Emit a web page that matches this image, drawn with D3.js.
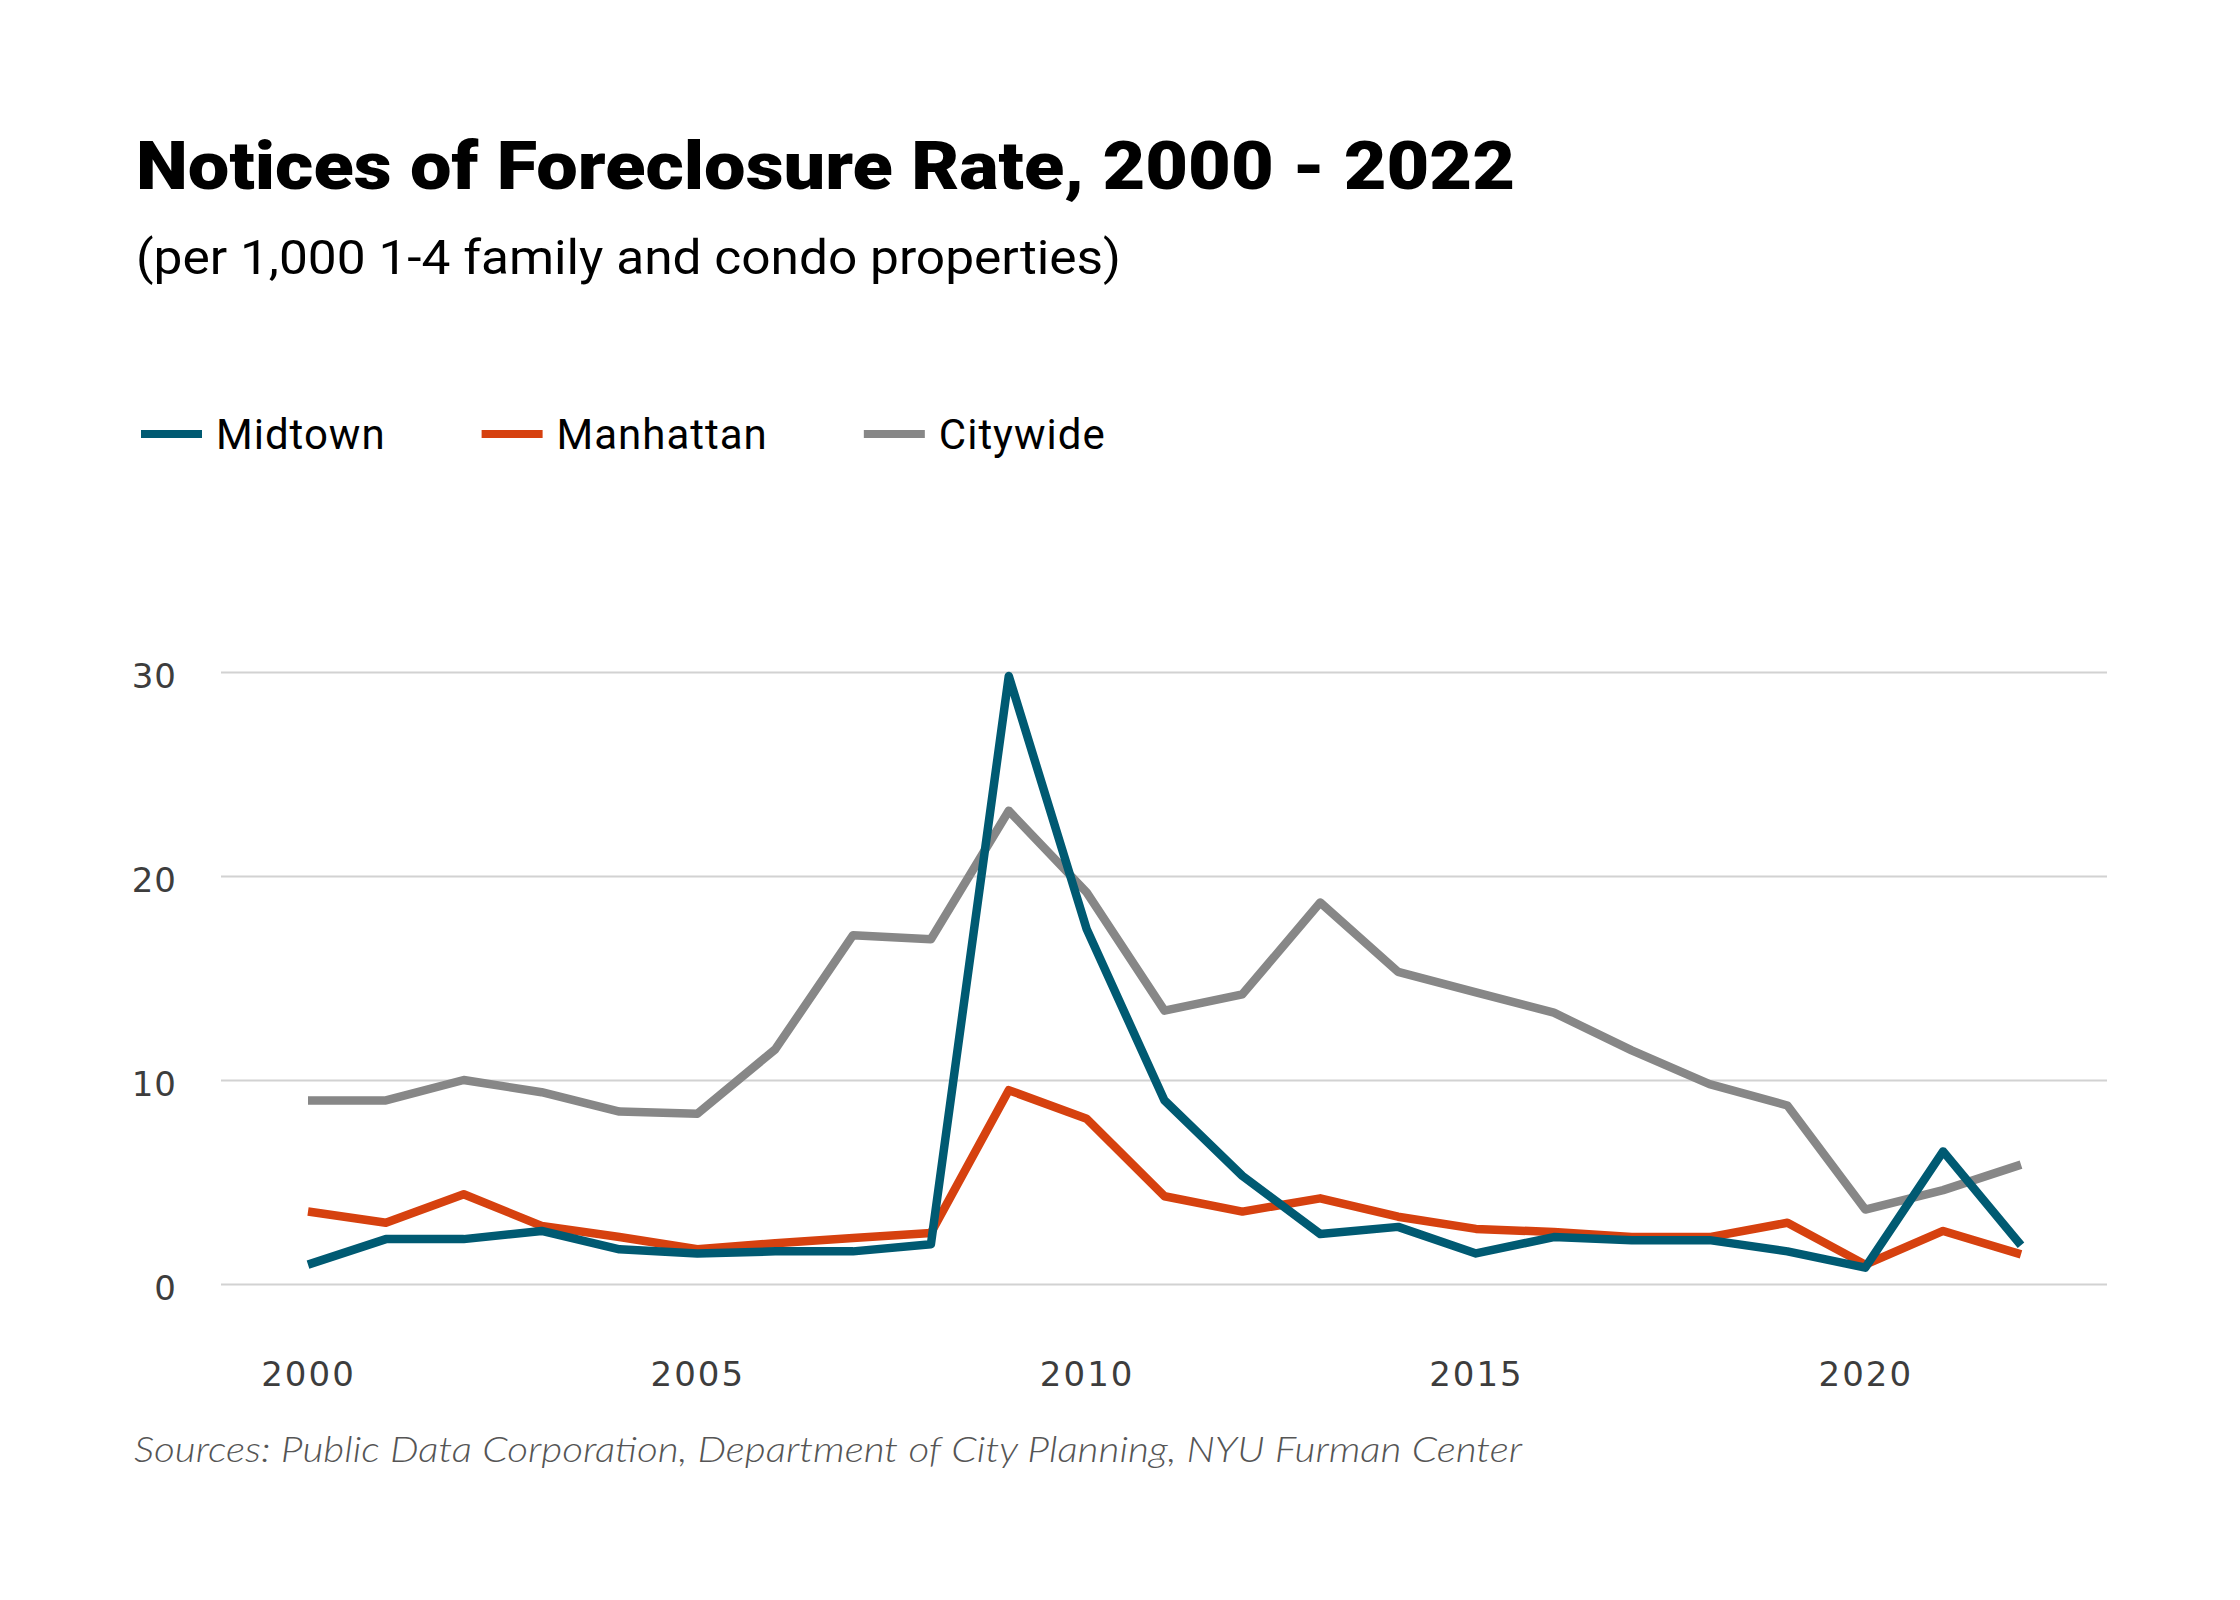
<!DOCTYPE html>
<html>
<head>
<meta charset="utf-8">
<script src="https://cdn.jsdelivr.net/npm/d3@7"></script>
<style>
  html, body { margin: 0; padding: 0; background: #fff; }
  svg { display: block; }
</style>
</head>
<body>
<svg id="chart" width="2240" height="1600"></svg>
<script>
// ---- data ----
const years = [2000,2001,2002,2003,2004,2005,2006,2007,2008,2009,2010,2011,2012,2013,2014,2015,2016,2017,2018,2019,2020,2021,2022];
const midtown   = [0.95,2.2,2.2,2.6,1.7,1.5,1.6,1.6,1.95,29.8,17.4,9.0,5.3,2.45,2.8,1.5,2.3,2.15,2.15,1.6,0.8,6.5,1.9];
const manhattan = [3.55,3.0,4.4,2.85,2.3,1.7,2.0,2.25,2.5,9.5,8.1,4.3,3.55,4.2,3.3,2.7,2.55,2.3,2.3,3.0,0.95,2.6,1.45];
const citywide  = [9.0,9.0,10.0,9.4,8.45,8.35,11.5,17.1,16.9,23.2,19.2,13.4,14.2,18.7,15.3,14.3,13.3,11.45,9.8,8.75,3.65,4.6,5.85];
const seriesNames = ["Midtown","Manhattan","Citywide"];
const seriesColors = ["#005a72","#d6410f","#878787"];
const yTicks = [0,10,20,30];
const xTicks = [2000,2005,2010,2015,2020];
const titleText = "Notices of Foreclosure Rate, 2000 - 2022";
const subtitleText = "(per 1,000 1-4 family and condo properties)";
const sourceText = "Sources: Public Data Corporation, Department of City Planning, NYU Furman Center";

const series = [midtown, manhattan, citywide];

const svg = d3.select("#chart");

const x = d3.scaleLinear().domain([2000, 2022]).range([308, 2021]);
const y = d3.scaleLinear().domain([0, 30]).range([1284, 672]);
const gridLeft = 221, gridRight = 2107;

// title
svg.append("text")
  .attr("x", 136).attr("y", 189)
  .attr("font-family", "Roboto, 'Noto Sans', sans-serif")
  .attr("font-weight", 900)
  .attr("font-size", 67)
  .attr("fill", "#000")
  .attr("textLength", 1379)
  .attr("lengthAdjust", "spacingAndGlyphs")
  .text(titleText);

svg.append("text")
  .attr("x", 136).attr("y", 274)
  .attr("font-family", "Roboto, 'Noto Sans', sans-serif")
  .attr("font-weight", 400)
  .attr("font-size", 49)
  .attr("fill", "#000")
  .attr("textLength", 985)
  .attr("lengthAdjust", "spacingAndGlyphs")
  .text(subtitleText);

// legend
const legend = svg.append("g");
let lx = 141;
seriesNames.forEach((name, i) => {
  legend.append("line")
    .attr("x1", lx).attr("x2", lx + 61)
    .attr("y1", 434).attr("y2", 434)
    .attr("stroke", seriesColors[i]).attr("stroke-width", 8);
  const t = legend.append("text")
    .attr("x", lx + 75).attr("y", 434)
    .attr("dy", "0.36em")
    .attr("font-family", "Roboto, 'Noto Sans', sans-serif")
    .attr("font-size", 42)
    .attr("letter-spacing", 1)
    .attr("fill", "#000")
    .text(name);
  const w = t.node().getComputedTextLength();
  lx = lx + 75 + w + 96;
});

// y gridlines + labels
const yAxis = d3.axisLeft(y).tickValues(yTicks).tickSize(0).tickPadding(0);
const gy = svg.append("g").attr("transform", `translate(${gridLeft},0)`).call(yAxis);
gy.select(".domain").remove();
gy.selectAll(".tick line")
  .attr("x2", gridRight - gridLeft)
  .attr("stroke", "#d2d2d2").attr("stroke-width", 2);
gy.selectAll(".tick text")
  .attr("x", 177 - gridLeft)
  .attr("dy", "0.45em")
  .attr("font-family", "'DejaVu Sans', sans-serif")
  .attr("font-size", 34)
  .attr("letter-spacing", 1)
  .attr("fill", "#3d3d3d");

// x labels
const xAxis = d3.axisBottom(x).tickValues(xTicks).tickFormat(d3.format("d")).tickSize(0).tickPadding(0);
const gx = svg.append("g").attr("transform", `translate(0,1374)`).call(xAxis);
gx.select(".domain").remove();
gx.selectAll(".tick text")
  .attr("y", 0).attr("dy", "0.36em")
  .attr("font-family", "'DejaVu Sans', sans-serif")
  .attr("font-size", 34)
  .attr("letter-spacing", 2)
  .attr("fill", "#3d3d3d");

// lines
const line = d3.line().x((d, i) => x(years[i])).y(d => y(d));
const order = [2, 1, 0];
order.forEach(i => {
  svg.append("path")
    .datum(series[i])
    .attr("d", line)
    .attr("fill", "none")
    .attr("stroke", seriesColors[i])
    .attr("stroke-width", 8.5)
    .attr("stroke-linejoin", "round")
    .attr("stroke-linecap", "butt");
});

// source
svg.append("text")
  .attr("x", 134).attr("y", 1462)
  .attr("font-family", "Lato, 'Open Sans', sans-serif")
  .attr("font-style", "italic")
  .attr("font-weight", 300)
  .attr("font-size", 36)
  .attr("fill", "#555")
  .attr("textLength", 1388)
  .attr("lengthAdjust", "spacingAndGlyphs")
  .text(sourceText);
</script>
</body>
</html>
